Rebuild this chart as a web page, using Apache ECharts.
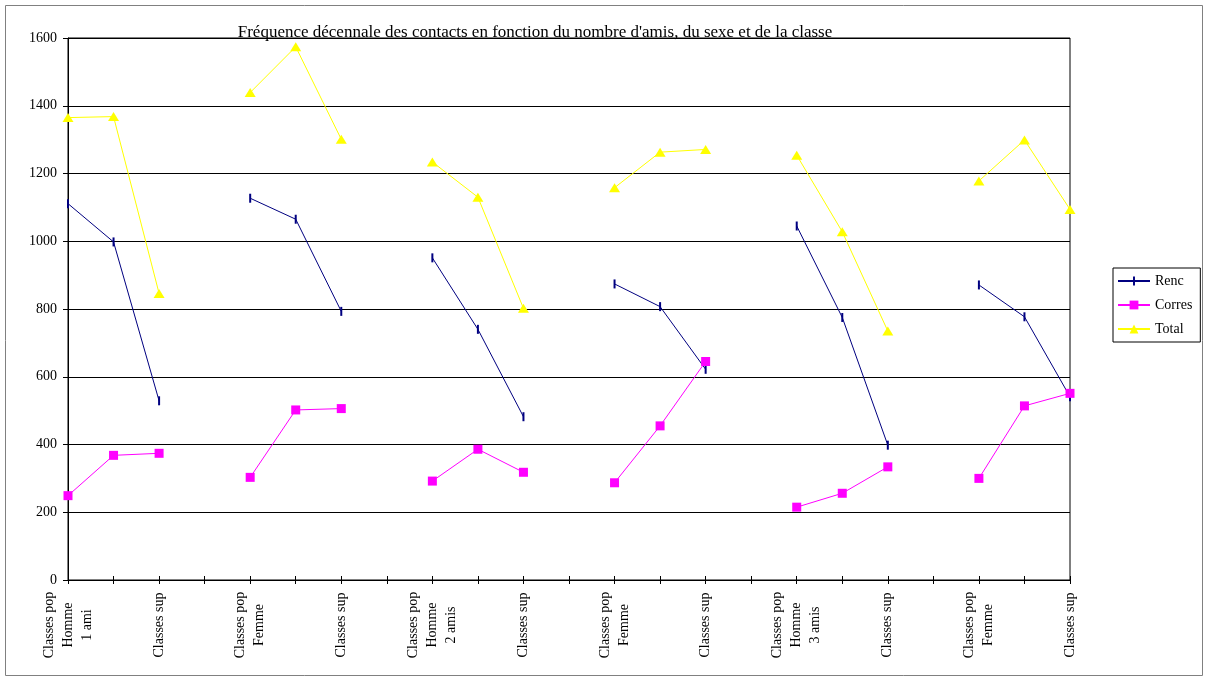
<!DOCTYPE html>
<html>
<head>
<meta charset="utf-8">
<script src="https://cdn.jsdelivr.net/npm/echarts@6/dist/echarts.min.js"></script>
<style>
  html, body { margin: 0; padding: 0; background: #fff; }
  #chart { width: 1207px; height: 680px; }
</style>
</head>
<body>
<div id="chart"></div>
<script>
// Category slots: three social classes per group, an empty slot between groups
const categories = [
  'Classes pop\nHomme\n1 ami', '', 'Classes sup', '',
  'Classes pop\nFemme', '', 'Classes sup', '',
  'Classes pop\nHomme\n2 amis', '', 'Classes sup', '',
  'Classes pop\nFemme', '', 'Classes sup', '',
  'Classes pop\nHomme\n3 amis', '', 'Classes sup', '',
  'Classes pop\nFemme', '', 'Classes sup'
];

// null marks the gap between groups
const renc = [
  1111, 998, 529, null,
  1127, 1065, 793, null,
  951, 740, 482, null,
  874, 807, 622, null,
  1045, 775, 398, null,
  871, 777, 541
];
const corres = [
  249, 368, 374, null,
  303, 502, 506, null,
  292, 386, 318, null,
  287, 455, 645, null,
  215, 256, 334, null,
  300, 514, 551
];
const total = [
  1365, 1368, 846, null,
  1439, 1574, 1301, null,
  1234, 1130, 802, null,
  1158, 1263, 1271, null,
  1254, 1028, 735, null,
  1178, 1299, 1094
];

const yTicks = { min: 0, max: 1600, interval: 200 };
const titleText = "Fréquence décennale des contacts en fonction du nombre d'amis, du sexe et de la classe";

const serif = '"Liberation Serif", "DejaVu Serif", serif';
// Renc marker: a thin vertical dash centred in a square box
// (the two zero-length segments only pin the bounding box to 9x9)
const dash = 'path://M0,0 L0,0 M9,9 L9,9 M3.5,0 L5.5,0 L5.5,9 L3.5,9 Z';

const chart = echarts.init(document.getElementById('chart'));

chart.setOption({
  animation: false,
  backgroundColor: '#fff',
  textStyle: { fontFamily: serif },
  title: {
    text: titleText,
    left: 530,
    top: 19,
    textAlign: 'center',
    textStyle: { fontFamily: serif, fontSize: 17, fontWeight: 'normal', color: '#000' }
  },
  graphic: [{
    type: 'rect',
    shape: { x: 5.5, y: 5.5, width: 1197, height: 670 },
    style: { fill: 'none', stroke: '#808080', lineWidth: 1 },
    silent: true,
    z: -1
  }],
  legend: {
    orient: 'vertical',
    left: 1113,
    top: 268,
    padding: [6, 8, 6, 4],
    itemGap: 10,
    itemWidth: 32,
    itemHeight: 11,
    borderColor: '#000',
    borderWidth: 1,
    textStyle: { fontFamily: serif, fontSize: 14, color: '#000' },
    data: ['Renc', 'Corres', 'Total']
  },
  grid: {
    left: 68, right: 137, top: 38, bottom: 100,
    show: true, borderColor: '#000', borderWidth: 1,
    containLabel: false
  },
  xAxis: [{
    type: 'category',
    data: categories,
    boundaryGap: false,
    axisLine: { lineStyle: { color: '#000', width: 1 } },
    axisTick: { show: true, interval: 0, length: 4, lineStyle: { color: '#000' } },
    axisLabel: {
      interval: 1,
      rotate: 90,
      align: 'center',
      verticalAlign: 'middle',
      margin: 45,
      lineHeight: 19,
      fontFamily: serif,
      fontSize: 14,
      color: '#000'
    },
    splitLine: { show: false }
  }, {
    type: 'category',
    data: categories,
    boundaryGap: false,
    position: 'bottom',
    axisLine: { show: false },
    axisTick: { show: true, inside: true, interval: 0, length: 4, lineStyle: { color: '#000' } },
    axisLabel: { show: false },
    splitLine: { show: false }
  }],
  yAxis: {
    type: 'value',
    min: yTicks.min,
    max: yTicks.max,
    interval: yTicks.interval,
    axisLine: { show: true, lineStyle: { color: '#000', width: 1 } },
    axisTick: { show: true, length: 5, lineStyle: { color: '#000' } },
    axisLabel: {
      fontFamily: serif, fontSize: 14, color: '#000', margin: 11,
      formatter: v => String(v)
    },
    splitLine: { show: true, lineStyle: { color: '#000', width: 1 } }
  },
  series: [{
    name: 'Renc',
    type: 'line',
    data: renc,
    connectNulls: false,
    symbol: dash,
    symbolSize: 9,
    itemStyle: { color: '#000080' },
    lineStyle: { color: '#000080', width: 1 }
  }, {
    name: 'Corres',
    type: 'line',
    data: corres,
    connectNulls: false,
    symbol: 'rect',
    symbolSize: 9,
    itemStyle: { color: '#FF00FF' },
    lineStyle: { color: '#FF00FF', width: 1 }
  }, {
    name: 'Total',
    type: 'line',
    data: total,
    connectNulls: false,
    symbol: 'triangle',
    symbolSize: [11, 9],
    itemStyle: { color: '#FFFF00' },
    lineStyle: { color: '#FFFF00', width: 1 }
  }]
});
</script>
</body>
</html>
